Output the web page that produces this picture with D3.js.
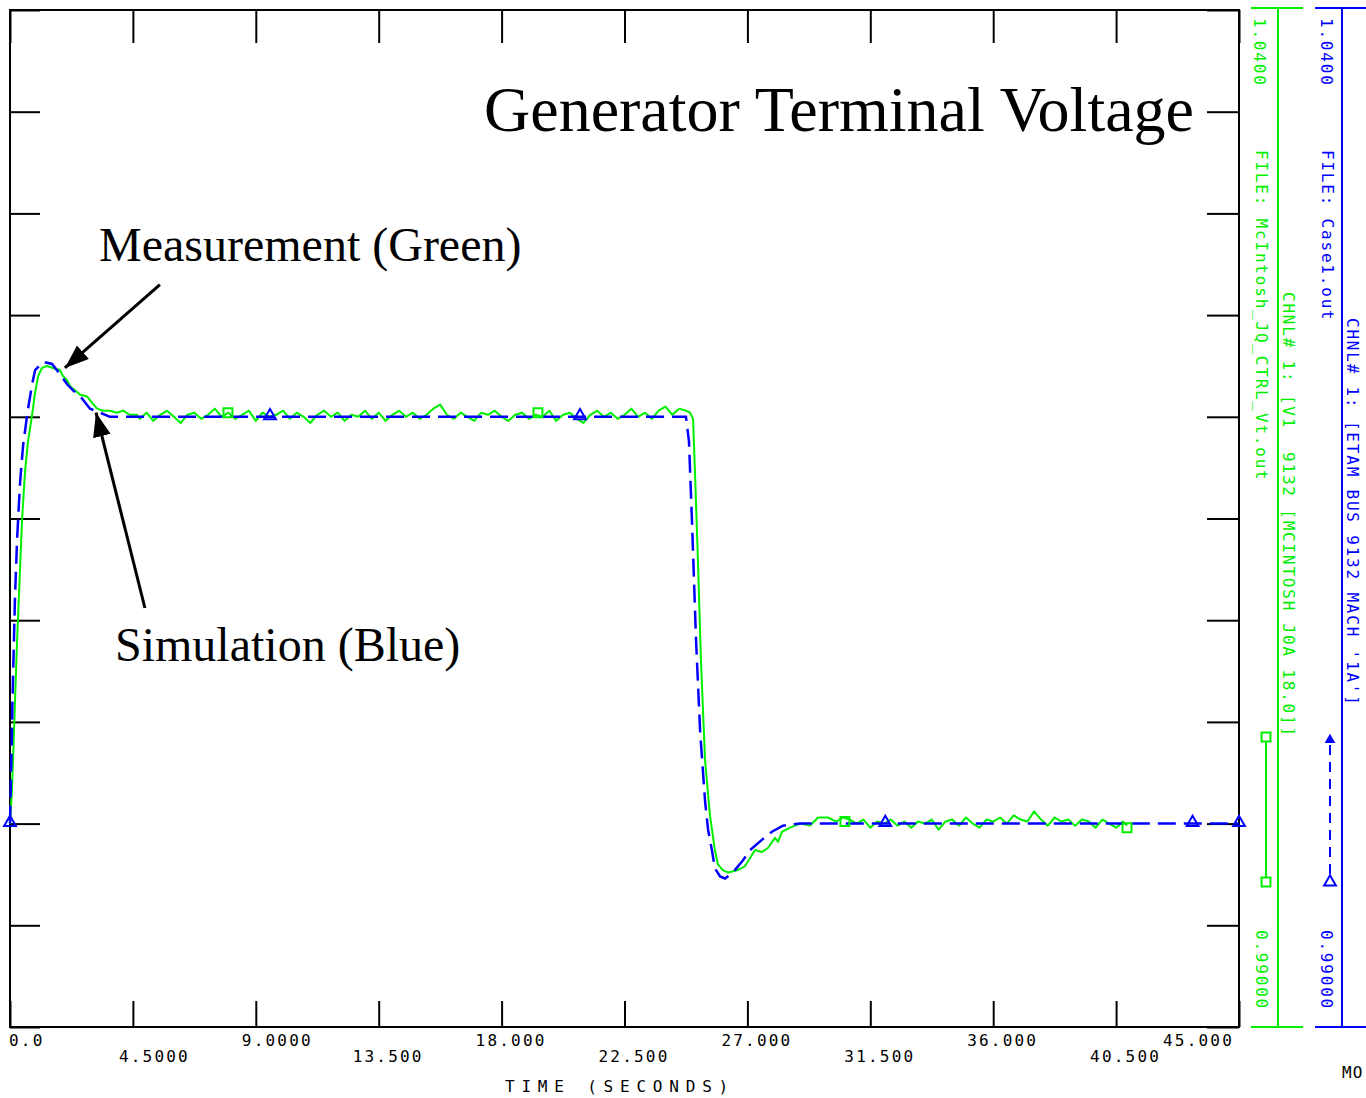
<!DOCTYPE html>
<html>
<head>
<meta charset="utf-8">
<script src="https://cdn.jsdelivr.net/npm/d3@7"></script>
<style>
  body { margin: 0; background: #fff; }
  svg { display: block; font-family: "DejaVu Sans Mono", monospace; }
</style>
</head>
<body>
<svg id="chart" width="1366" height="1098"></svg>
<script>
// time axis (seconds) and voltage axis (pu)
const xTicks = [0, 4.5, 9, 13.5, 18, 22.5, 27, 31.5, 36, 40.5, 45];
const xTickLabels = ["0.0", "4.5000", "9.0000", "13.500", "18.000", "22.500",
                     "27.000", "31.500", "36.000", "40.500", "45.000"];
const yTicks = [0.99, 0.995, 1.0, 1.005, 1.01, 1.015, 1.02, 1.025, 1.03, 1.035, 1.04];

// simulation (blue) [time, volt]
const simData = [
  [0, 1.0000], [0.04, 1.0025], [0.09, 1.0060], [0.18, 1.0110], [0.26, 1.0140],
  [0.37, 1.0168], [0.48, 1.0186], [0.55, 1.0193], [0.66, 1.0204], [0.81, 1.0216],
  [0.92, 1.0223], [1.21, 1.0227], [1.54, 1.0226], [1.83, 1.0221], [2.09, 1.0216],
  [2.31, 1.0213], [2.64, 1.0209], [2.93, 1.0204], [3.30, 1.0202], [3.66, 1.0200],
  [4.28, 1.0200],
  [24.75, 1.0200], [24.86, 1.0188], [24.97, 1.0149], [25.12, 1.0090], [25.27, 1.0045],
  [25.45, 1.0011], [25.56, 0.9997], [25.70, 0.9987], [25.81, 0.9978], [26.00, 0.9974],
  [26.18, 0.9973], [26.47, 0.9976], [26.84, 0.9982], [27.10, 0.9987], [27.53, 0.9992],
  [27.90, 0.9996], [28.30, 0.9999], [28.93, 1.0000], [45, 1.0000]
];

// measurement (green) [time, volt]
const measData = [
  [0, 1.0000], [0.07, 1.0016], [0.26, 1.0090], [0.44, 1.0149], [0.55, 1.0173],
  [0.66, 1.0188], [0.81, 1.0201], [0.92, 1.0212], [1.03, 1.0220], [1.17, 1.0224],
  [1.35, 1.0225], [1.57, 1.0224], [1.83, 1.0223], [1.94, 1.0220], [2.09, 1.0218],
  [2.20, 1.0215], [2.38, 1.0213], [2.56, 1.0211], [2.82, 1.0210], [3.00, 1.0207],
  [3.19, 1.0204], [3.41, 1.0203], [3.66, 1.0203], [3.92, 1.0202], [4.14, 1.0203],
  [4.39, 1.0201], [4.65, 1.0201],
  [4.75, 1.0199], [5.00, 1.0202], [5.25, 1.0198],
  [5.50, 1.0201], [5.75, 1.0203], [6.00, 1.0200], [6.25, 1.0197], [6.50, 1.0201],
  [6.75, 1.0202], [7.00, 1.0199], [7.25, 1.0201], [7.50, 1.0204], [7.75, 1.0200],
  [8.00, 1.0202], [8.25, 1.0199], [8.50, 1.0201], [8.75, 1.0203], [9.00, 1.0198],
  [9.25, 1.0202], [9.50, 1.0200], [9.75, 1.0201], [10.00, 1.0203], [10.25, 1.0199],
  [10.50, 1.0202], [10.75, 1.0200], [11.00, 1.0197], [11.25, 1.0201], [11.50, 1.0203],
  [11.75, 1.0200], [12.00, 1.0202], [12.25, 1.0198], [12.50, 1.0201], [12.75, 1.0200],
  [13.00, 1.0203], [13.25, 1.0199], [13.50, 1.0202], [13.75, 1.0198], [14.00, 1.0201],
  [14.25, 1.0203], [14.50, 1.0200], [14.75, 1.0202], [15.00, 1.0199], [15.25, 1.0201],
  [15.50, 1.0204], [15.75, 1.0206], [16.00, 1.0201], [16.25, 1.0199], [16.50, 1.0202],
  [16.75, 1.0200], [17.00, 1.0198], [17.25, 1.0202], [17.50, 1.0201], [17.75, 1.0203],
  [18.00, 1.0200], [18.25, 1.0198], [18.50, 1.0201], [18.75, 1.0202], [19.00, 1.0199],
  [19.25, 1.0201], [19.50, 1.0200], [19.75, 1.0203], [20.00, 1.0198], [20.25, 1.0201],
  [20.50, 1.0202], [20.75, 1.0199], [21.00, 1.0197], [21.25, 1.0201], [21.50, 1.0203],
  [21.75, 1.0200], [22.00, 1.0202], [22.25, 1.0199], [22.50, 1.0201], [22.75, 1.0204],
  [23.00, 1.0200], [23.25, 1.0202], [23.50, 1.0199], [23.75, 1.0203], [24.00, 1.0205],
  [24.25, 1.0201], [24.50, 1.0204], [24.75, 1.0203],
  [24.90, 1.0202], [25.01, 1.0199], [25.08, 1.0173], [25.19, 1.0129], [25.30, 1.0080],
  [25.45, 1.0031], [25.63, 1.0004], [25.81, 0.9987], [25.92, 0.9980], [26.11, 0.9977],
  [26.29, 0.9976], [26.62, 0.9977], [26.91, 0.9979], [27.28, 0.9987], [27.53, 0.9986],
  [27.75, 0.9988], [28.01, 0.9993], [28.12, 0.9991], [28.27, 0.9996], [28.56, 0.9998],
  [28.93, 1.0000], [29.29, 0.9999], [29.59, 1.0003], [29.95, 1.0003],
  [30.25, 1.0001], [30.50, 1.0003], [30.75, 1.0002],
  [31.00, 1.0000], [31.25, 1.0002], [31.50, 0.9998], [31.75, 1.0001], [32.00, 1.0000],
  [32.25, 1.0002], [32.50, 0.9999], [32.75, 1.0001], [33.00, 0.9998], [33.25, 1.0001],
  [33.50, 1.0000], [33.75, 1.0002], [34.00, 0.9997], [34.25, 1.0001], [34.50, 1.0002],
  [34.75, 0.9999], [35.00, 1.0003], [35.25, 1.0000], [35.50, 0.9998], [35.75, 1.0002],
  [36.00, 1.0001], [36.25, 1.0003], [36.50, 1.0000], [36.75, 1.0004], [37.00, 1.0002],
  [37.25, 1.0001], [37.50, 1.0006], [37.75, 1.0002], [38.00, 0.9999], [38.25, 1.0003],
  [38.50, 1.0001], [38.75, 1.0002], [39.00, 0.9999], [39.25, 1.0002], [39.50, 1.0001],
  [39.75, 0.9998], [40.00, 1.0002], [40.25, 1.0000], [40.50, 0.9998], [40.75, 1.0001],
  [40.90, 0.9999]
];

const simMarkers = [[0, 1.0], [9.52, 1.02], [20.87, 1.02], [32.05, 1.0], [43.3, 1.0], [45, 1.0]];
const measMarkers = [[7.98, 1.0202], [19.33, 1.0202], [30.57, 1.0001], [40.9, 0.9998]];

const BLUE = "#0000ff", GREEN = "#00f000";

const svg = d3.select("#chart");
const x = d3.scaleLinear().domain([0, 45]).range([10, 1239]);
const y = d3.scaleLinear().domain([0.99, 1.04]).range([1027, 10]);

// ticks on all four sides
function ticks(g) {
  g.select(".domain").remove();
  g.selectAll(".tick line").attr("stroke", "#000").attr("stroke-width", 2);
}
svg.append("g").attr("transform", `translate(0,${y(0.99)})`)
  .call(d3.axisTop(x).tickValues(xTicks).tickSize(26).tickFormat("")).call(ticks);
svg.append("g").attr("transform", `translate(0,${y(1.04)})`)
  .call(d3.axisBottom(x).tickValues(xTicks).tickSize(33).tickFormat("")).call(ticks);
svg.append("g").attr("transform", `translate(${x(0)},0)`)
  .call(d3.axisRight(y).tickValues(yTicks).tickSize(30).tickFormat("")).call(ticks);
svg.append("g").attr("transform", `translate(${x(45)},0)`)
  .call(d3.axisLeft(y).tickValues(yTicks).tickSize(32).tickFormat("")).call(ticks);

svg.append("rect")
  .attr("x", x(0)).attr("y", y(1.04))
  .attr("width", x(45) - x(0)).attr("height", y(0.99) - y(1.04))
  .attr("fill", "none").attr("stroke", "#000").attr("stroke-width", 2);

// x tick labels, staggered in two rows
svg.append("g").selectAll("text")
  .data(xTicks)
  .join("text")
  .attr("x", (d, i) => {
    if (i === 0) return x(d) - 1;
    if (i === xTicks.length - 1) return x(d) - 5;
    return x(d) - (xTickLabels[i].indexOf(".") === 1 ? 14 : 26);
  })
  .attr("y", (d, i) => i % 2 ? 1062 : 1046)
  .attr("text-anchor", (d, i) => i === xTicks.length - 1 ? "end" : "start")
  .attr("font-size", 16).attr("letter-spacing", 2.2).attr("fill", "#000")
  .text((d, i) => xTickLabels[i]);

svg.append("text")
  .attr("x", 620).attr("y", 1092).attr("text-anchor", "middle")
  .attr("font-size", 16).attr("letter-spacing", 6.8).attr("fill", "#000")
  .text("TIME (SECONDS)");

svg.append("text")
  .attr("x", 1342).attr("y", 1078)
  .attr("font-size", 16).attr("letter-spacing", 1).attr("fill", "#000")
  .text("MO");

// curves
const line = d3.line().x(d => x(d[0])).y(d => y(d[1]));

svg.append("path").datum(measData)
  .attr("d", line).attr("fill", "none")
  .attr("stroke", GREEN).attr("stroke-width", 2).attr("stroke-linejoin", "round");

svg.append("path").datum(simData)
  .attr("d", line).attr("fill", "none")
  .attr("stroke", BLUE).attr("stroke-width", 2.5).attr("stroke-dasharray", "18,8");

const tri = d3.symbol().type(d3.symbolTriangle).size(60);
const sq = d3.symbol().type(d3.symbolSquare).size(80);

svg.append("g").selectAll("path")
  .data(measMarkers).join("path")
  .attr("transform", d => `translate(${x(d[0])},${y(d[1])})`)
  .attr("d", sq).attr("fill", "none").attr("stroke", GREEN).attr("stroke-width", 2);

svg.append("g").selectAll("path")
  .data(simMarkers).join("path")
  .attr("transform", d => `translate(${x(d[0])},${y(d[1]) - 1})`)
  .attr("d", tri).attr("fill", "none").attr("stroke", BLUE).attr("stroke-width", 2);

// right-hand channel axes
function chanAxis(ax, color) {
  svg.append("line").attr("x1", ax).attr("x2", ax).attr("y1", 8).attr("y2", 1027)
    .attr("stroke", color).attr("stroke-width", 2);
  [8, 1027].forEach(yy => {
    svg.append("line").attr("x1", ax - 27).attr("x2", ax + 25).attr("y1", yy).attr("y2", yy)
      .attr("stroke", color).attr("stroke-width", 2);
  });
}
chanAxis(1278, GREEN);
chanAxis(1342, BLUE);

const sideLabels = [
  { t: "1.0400", cx: 1260, y0: 18, c: GREEN },
  { t: "FILE: McIntosh_JQ_CTRL_Vt.out", cx: 1262, y0: 150, c: GREEN },
  { t: "CHNL# 1: [V1  9132 [MCINTOSH J0A 18.0]]", cx: 1289, y0: 292, c: GREEN },
  { t: "0.99000", cx: 1262, y0: 930, c: GREEN },
  { t: "1.0400", cx: 1327, y0: 18, c: BLUE },
  { t: "FILE: Case1.out", cx: 1328, y0: 150, c: BLUE },
  { t: "CHNL# 1: [ETAM BUS 9132 MACH '1A']", cx: 1353, y0: 318, c: BLUE },
  { t: "0.99000", cx: 1327, y0: 930, c: BLUE }
];
svg.append("g").selectAll("text")
  .data(sideLabels).join("text")
  .attr("transform", d => `translate(${d.cx - 6},${d.y0}) rotate(90)`)
  .attr("font-size", 16).attr("letter-spacing", 1.8)
  .attr("fill", d => d.c).style("white-space", "pre")
  .text(d => d.t);

// legend glyphs
svg.append("line").attr("x1", 1266).attr("x2", 1266).attr("y1", 737).attr("y2", 882)
  .attr("stroke", GREEN).attr("stroke-width", 2);
[737, 882].forEach(yy => {
  svg.append("path").attr("transform", `translate(1266,${yy})`).attr("d", sq)
    .attr("fill", "#fff").attr("stroke", GREEN).attr("stroke-width", 2);
});
svg.append("line").attr("x1", 1330).attr("x2", 1330).attr("y1", 745).attr("y2", 880)
  .attr("stroke", BLUE).attr("stroke-width", 2).attr("stroke-dasharray", "10,7");
svg.append("path").attr("transform", "translate(1330,740)")
  .attr("d", d3.symbol().type(d3.symbolTriangle).size(50)).attr("fill", BLUE);
svg.append("path").attr("transform", "translate(1330,882)").attr("d", tri)
  .attr("fill", "#fff").attr("stroke", BLUE).attr("stroke-width", 2);

// annotations
svg.append("defs").append("marker")
  .attr("id", "ah").attr("markerUnits", "userSpaceOnUse")
  .attr("markerWidth", 26).attr("markerHeight", 20)
  .attr("refX", 24).attr("refY", 9).attr("orient", "auto")
  .append("path").attr("d", "M0,0 L24,9 L0,18 Z").attr("fill", "#000");

const arrows = [
  { from: [5.49, 1.0265], to: [2.01, 1.0224] },
  { from: [4.94, 1.0106], to: [3.15, 1.0202] }
];
svg.append("g").selectAll("line")
  .data(arrows).join("line")
  .attr("x1", d => x(d.from[0])).attr("y1", d => y(d.from[1]))
  .attr("x2", d => x(d.to[0])).attr("y2", d => y(d.to[1]))
  .attr("stroke", "#000").attr("stroke-width", 3).attr("marker-end", "url(#ah)");

const serif = '"Liberation Serif", "Times New Roman", serif';
svg.append("text").attr("x", 484).attr("y", 131)
  .attr("font-family", serif).attr("font-size", 64).attr("fill", "#000")
  .text("Generator Terminal Voltage");
svg.append("text").attr("x", 99).attr("y", 261)
  .attr("font-family", serif).attr("font-size", 48).attr("fill", "#000")
  .text("Measurement (Green)");
svg.append("text").attr("x", 115).attr("y", 661)
  .attr("font-family", serif).attr("font-size", 48).attr("fill", "#000")
  .text("Simulation (Blue)");
</script>
</body>
</html>
